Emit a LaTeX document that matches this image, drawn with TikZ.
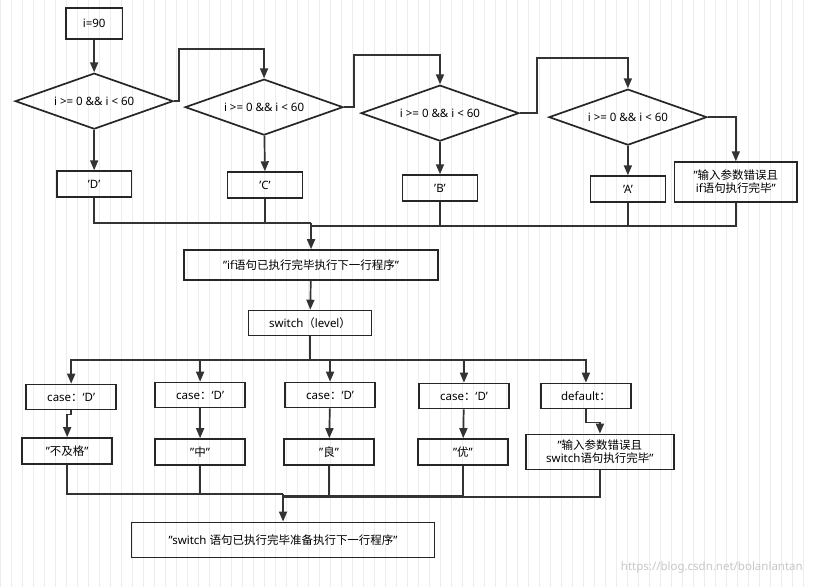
\documentclass[tikz,border=0pt]{standalone}
\usepackage{fontspec}
\setmainfont{Noto Sans}
\newfontfamily\cjk{Noto Sans CJK SC}
\usetikzlibrary{shapes.geometric,arrows.meta,calc}
\begin{document}
\begin{tikzpicture}[x=1pt,y=-1pt,
  box/.style={draw=black!85,line width=1.7pt,minimum height=26pt,inner sep=2pt,font=\fontsize{11.5}{13}\selectfont,align=center},
  dia/.style={draw=black!85,line width=1.7pt,diamond,aspect=2.8,minimum width=158pt,minimum height=56pt,inner sep=0pt,font=\fontsize{11.5}{13}\selectfont},
  ln/.style={draw=black!80,line width=1.7pt},
  ar/.style={ln,-{Triangle[length=10pt,width=8pt]}}]
\fill[white] (0,0) rectangle (813,587);
\draw[black!7,line width=0.4pt,step=11] (0,0) grid (813,587);
\node[box,minimum width=57pt,minimum height=31pt] (i) at (94,23) {i=90};
\node[dia] (d1) at (94,101) {i >= 0 \&\& i < 60};
\node[dia] (d2) at (264,107) {i >= 0 \&\& i < 60};
\node[dia] (d3) at (440,113) {i >= 0 \&\& i < 60};
\node[dia] (d4) at (628,117) {i >= 0 \&\& i < 60};
\node[box,minimum width=75pt] (bD) at (94,184) {'D'};
\node[box,minimum width=75pt] (bC) at (265,185) {'C'};
\node[box,minimum width=75pt] (bB) at (440,188) {'B'};
\node[box,minimum width=75pt] (bA) at (628,189) {'A'};
\node[box,minimum width=123pt,minimum height=40pt] (err) at (736,182) {"{\cjk 输入参数错误且}\\if{\cjk 语句执行完毕}"};
\node[box,minimum width=254pt,minimum height=30pt] (ifd) at (311,265) {"if{\cjk 语句已执行完毕执行下一行程序}"};
\node[box,minimum width=123pt,minimum height=25pt] (sw) at (310,323) {switch{\cjk （}level{\cjk ）}};
\node[box,minimum width=90pt,minimum height=25pt] (c1) at (71,397) {case{\cjk ：}‘D’};
\node[box,minimum width=90pt,minimum height=25pt] (c2) at (200,395) {case{\cjk ：}‘D’};
\node[box,minimum width=90pt,minimum height=25pt] (c3) at (330,395) {case{\cjk ：}‘D’};
\node[box,minimum width=90pt,minimum height=25pt] (c4) at (464,396) {case{\cjk ：}‘D’};
\node[box,minimum width=90pt,minimum height=25pt] (cd) at (586,396) {default{\cjk ：}};
\node[box,minimum width=90pt] (r1) at (67,451) {"{\cjk 不及格}"};
\node[box,minimum width=90pt] (r2) at (200,452) {"{\cjk 中}"};
\node[box,minimum width=90pt] (r3) at (329,452) {"{\cjk 良}"};
\node[box,minimum width=90pt] (r4) at (463,452) {"{\cjk 优}"};
\node[box,minimum width=148pt,minimum height=35pt] (r5) at (600,452) {"{\cjk 输入参数错误且}\\switch{\cjk 语句执行完毕}"};
\node[box,minimum width=303pt,minimum height=35pt] (fin) at (283,540) {"switch {\cjk 语句已执行完毕准备执行下一行程序}"};
\node[text=black!22,font=\fontsize{11.5}{13}\selectfont] (wm) at (712,568) {https://blog.csdn.net/bolanlantan};
% top chain
\draw[ar] (i) -- (d1);
\draw[ar] (d1.east) -- ++(5,0) |- ($(d2.north)+(0,-29)$) -- (d2.north);
\draw[ar] (d2.east) -- ++(10,0) |- ($(d3.north)+(0,-29)$) -- (d3.north);
\draw[ar] (d3.east) -- ++(17,0) |- ($(d4.north)+(0,-30)$) -- (d4.north);
\draw[ar] (d4.east) -| (err.north);
\draw[ar] (d1) -- (bD);
\draw[ar] (d2) -- (bC);
\draw[ar] (d3) -- (bB);
\draw[ar] (d4) -- (bA);
\coordinate (m1) at (311,223);
\draw[ln] (bD.south) |- (m1);
\draw[ln] (bC.south) -- (bC.south|-m1);
\draw[ln] (err.south) |- (311,226);
\draw[ln] (bB.south) -- (440,226);
\draw[ln] (bA.south) -- (628,226);
\draw[ar] (m1) -- (ifd.north);
\draw[ar] (ifd) -- (sw);
% switch
\coordinate (s1) at (310,360);
\draw[ln] (sw.south) -- (s1);
\draw[ar] (s1) -| (c1.north);
\draw[ar] (s1) -| (c2.north);
\draw[ar] (s1) -| (c3.north);
\draw[ar] (s1) -| (c4.north);
\draw[ar] (s1) -| (cd.north);
\draw[ar] (c1.south) -- ++(0,4) -| (r1.north);
\draw[ar] (c2) -- (r2);
\draw[ar] (c3) -- (r3);
\draw[ar] (c4) -- (r4);
\draw[ar] (cd.south) -- ++(0,13) -| (r5.north);
\coordinate (m2) at (283,494);
\draw[ln] (r1.south) |- (m2);
\draw[ln] (r2.south) -- (r2.south|-m2);
\draw[ln] (r3.south) -- (329,496);
\draw[ln] (r4.south) |- (283,496);
\draw[ln] (r5.south) |- (283,497);
\draw[ar] (m2) -- (fin.north);
\end{tikzpicture}
\end{document}
